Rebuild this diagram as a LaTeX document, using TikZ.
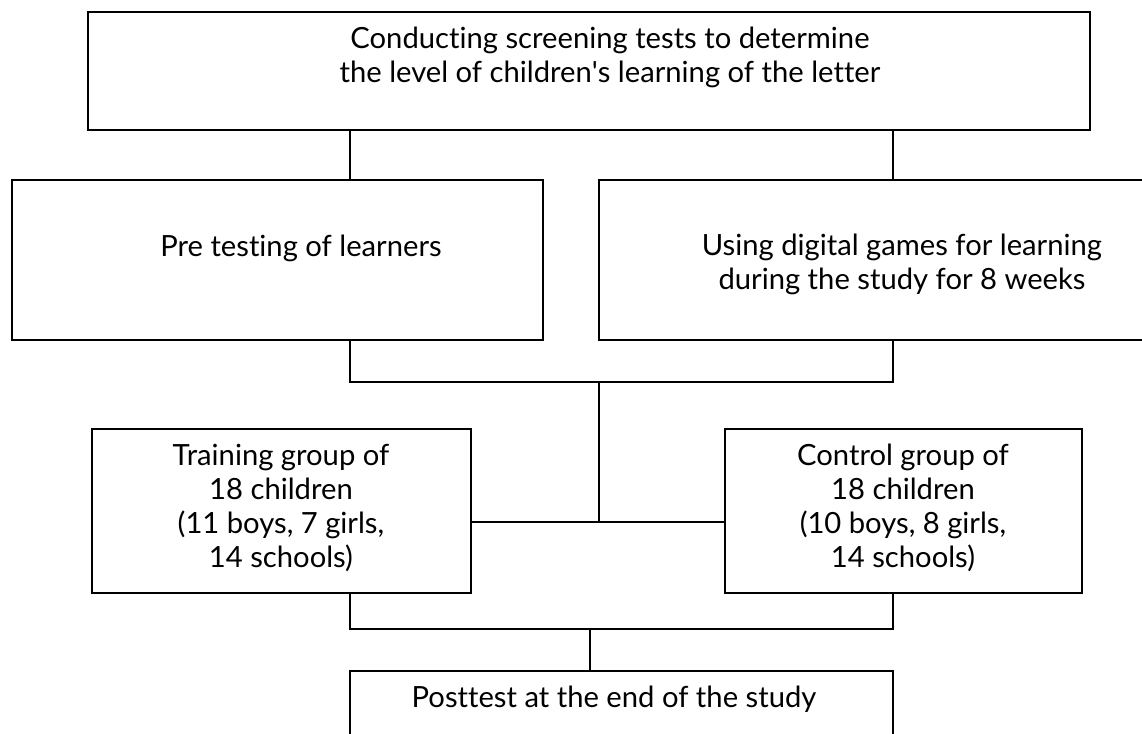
\documentclass[tikz,border=0pt]{standalone}
\usepackage{fontspec}
\setmainfont{Lato}[Ligatures={NoCommon,TeX}]
\begin{document}
\begin{tikzpicture}[x=1pt,y=-1pt,
  box/.style={draw, line width=2pt, rectangle, inner sep=0pt},
  txt/.style={align=center, inner sep=0pt, font=\fontsize{29.2}{34}\selectfont},
  conn/.style={line width=1.6pt}]
\clip (0,0) rectangle (1142,733);
\fill[white] (0,0) rectangle (1142,733);
% boxes
\node[box, minimum width=1002pt, minimum height=118pt] (top) at (589,71) {};
\node[box, minimum width=531pt, minimum height=160pt] (pre) at (277.5,260) {};
\node[box, minimum width=544pt, minimum height=160pt] (dig) at (871,260) {};
\node[box, minimum width=379pt, minimum height=164pt] (train) at (281.5,511) {};
\node[box, minimum width=357pt, minimum height=164pt] (ctrl) at (903.5,511) {};
\node[box, minimum width=543pt, minimum height=100pt] (post) at (621.5,721) {};
% texts
\node[txt] (toptext) at (610,57) {Conducting screening tests to determine\\the level of children\textquotesingle s learning of the letter};
\node[txt] (pretext) at (301,248) {Pre testing of learners};
\node[txt] (digtext) at (902,264) {Using digital games for learning\\during the study for 8 weeks};
\node[txt] (traintext) at (281,508) {Training group of\\18 children\\(11 boys, 7 girls,\\14 schools)};
\node[txt] (ctrltext) at (903,508) {Control group of\\18 children\\(10 boys, 8 girls,\\14 schools)};
\node[txt] (posttext) at (614,699) {Posttest at the end of the study};
% connectors
\coordinate (xl) at (350,0);
\coordinate (xr) at (893,0);
\coordinate (j1) at (599,382);
\coordinate (j2) at (599,522);
\coordinate (j3) at (590,629);
\draw[conn] (top.south -| xl) -- (pre.north -| xl);
\draw[conn] (top.south -| xr) -- (dig.north -| xr);
\draw[conn] (pre.south -| xl) |- (j1) -| (dig.south -| xr);
\draw[conn] (j1) -- (j2);
\draw[conn] (train.east |- j2) -- (ctrl.west |- j2);
\draw[conn] (train.south -| xl) |- (j3) -| (ctrl.south -| xr);
\draw[conn] (j3) -- (post.north -| j3);
\end{tikzpicture}
\end{document}
